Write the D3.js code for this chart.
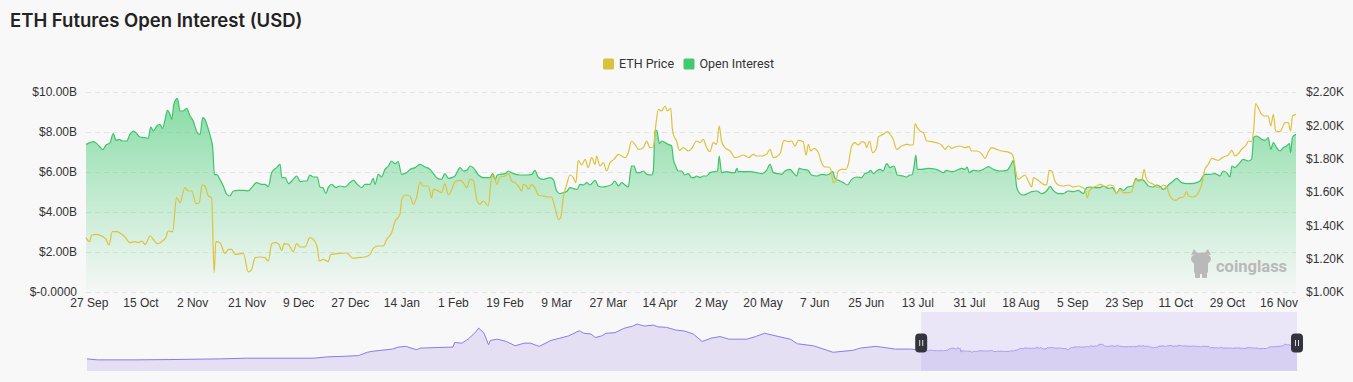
<!DOCTYPE html>
<html>
<head>
<meta charset="utf-8">
<script src="https://cdn.jsdelivr.net/npm/d3@7"></script>
<style>
  body { margin: 0; background: #f8f8f8; }
  svg { display: block; }
</style>
</head>
<body>
<svg id="chart"></svg>
<script>
// days are counted from the first point of the main window (26 Sep 2022)
const startDate = Date.UTC(2022, 8, 26);
const windowDays = 422.1;

// open interest in $ billions, [day, value]
const openInterest = [
  [0,7.38],[1.4,7.47],[2.6,7.52],[3.7,7.43],[4.9,7.25],[5.8,7.12],[7,7.35],[8.4,7.47],[9.5,7.92],[10.5,7.58],
  [11.6,7.63],[12.8,7.55],[14.2,7.55],[15.3,7.88],[16.5,8.05],[17.7,7.92],[18.8,7.75],[20.6,7.72],[21.7,7.68],
  [22.6,8.25],[23.5,8.05],[24.7,8.3],[25.8,8.38],[26.7,8.18],[27.6,8.63],[28.4,9.08],[29.3,8.88],[29.9,8.63],
  [30.7,9.42],[31.9,9.68],[32.8,9.05],[33.9,9.05],[35.1,9.18],[36.3,8.8],[37.4,8.55],[38.8,7.97],[39.8,7.88],
  [40.7,8.72],[41.5,8.63],[42.3,8.3],[43.5,7.72],[44.2,7.22],[44.8,5.88],[45.8,5.85],[46.7,5.63],[47.9,5.3],
  [49.1,4.88],[50.2,4.8],[51.4,5.05],[53.1,5.08],[54.9,5.08],[56.6,5.05],[57.8,5.22],[59.5,5.47],[61.3,5.38],
  [62.4,5.38],[63.6,5.27],[64.8,5.97],[66.5,6.22],[67.7,6.38],[68.3,5.72],[69.5,5.72],[70.6,5.42],[72.3,5.63],
  [73.5,5.8],[74.7,5.52],[75.8,5.55],[77,5.55],[78.1,5.85],[79.3,5.75],[80.7,5.75],[81.6,5.25],[82.6,5.22],
  [83.7,4.92],[84.5,5.22],[85.7,5.38],[87.2,5.22],[88.6,5.3],[90.3,5.25],[92.1,5.47],[93.3,5.58],[94.4,5.42],
  [96.2,5.22],[97.3,5.38],[99.1,5.38],[100.2,5.68],[100.8,5.38],[102,5.88],[103.1,5.75],[104.3,6.13],[105.5,6.3],
  [106.6,6.55],[107.8,6.42],[108.9,6.52],[110.1,5.88],[111.9,5.97],[113,6.13],[114.8,6.22],[116.5,6.38],
  [118.3,6.25],[120,6.13],[121.4,5.88],[122.6,5.68],[124,5.63],[125.2,5.92],[126.4,5.68],[127.6,5.72],[128.7,5.8],
  [130.5,6.22],[131.6,6.05],[132.8,6.08],[134,6.3],[135.1,6.22],[136.9,5.85],[138.6,5.72],[140.9,5.72],
  [141.9,5.92],[142.7,5.63],[143.5,5.85],[144.4,5.88],[146.2,5.92],[147.3,6.05],[149.1,5.92],[151.4,5.85],
  [153.7,5.85],[155.5,5.88],[156.6,6.08],[157.8,5.72],[159.5,5.63],[160.7,5.68],[161.9,5.72],[163,5.63],
  [164.2,5.05],[165.3,4.92],[166.5,4.97],[167.7,5.02],[168.8,5.22],[170,5.17],[171.4,5.13],[172.3,5.38],
  [173.5,5.35],[174.7,5.47],[175.8,5.35],[177.6,5.58],[178.7,5.3],[179.9,5.25],[181.6,5.28],[183.4,5.38],
  [184.5,5.55],[185.7,5.3],[186.9,5.47],[188,5.35],[189.2,5.25],[189.8,5.88],[190.3,6.3],[191.2,6.3],
  [192.1,5.97],[193.3,5.97],[194.4,6.05],[195.6,5.88],[197.3,5.85],[197.9,6.05],[198.5,8.05],[199.1,8.08],
  [200,7.42],[200.8,7.55],[202,7.47],[203.1,7.38],[204.3,7.3],[204.9,6.63],[205.7,6.3],[206.6,6.05],[207.8,6.05],
  [208.9,5.85],[210.1,5.92],[211.3,5.72],[212.1,5.72],[213,5.8],[214.2,5.72],[215.3,5.8],[216.5,5.8],
  [217.7,5.97],[219.4,6.02],[220.3,6.05],[220.9,6.8],[221.7,5.97],[223.5,6.02],[225.2,5.97],[226.4,5.97],
  [227,6.18],[227.6,6.02],[229.3,6.02],[231.6,6.02],[234,5.97],[235.7,5.92],[237.4,6.08],[238.6,6.38],
  [239.8,5.97],[241.5,5.92],[242.7,5.88],[243.8,6.05],[245.6,6.13],[246.7,5.97],[247.9,5.8],[248.8,6.18],
  [250.2,6.13],[251.9,6.08],[253.1,5.85],[254.9,5.8],[256.6,5.88],[258.4,5.85],[259.5,5.92],[260.5,6.02],
  [261.3,5.68],[263,5.55],[264.2,5.47],[265.6,5.35],[267.1,5.63],[268.8,5.75],[270.6,5.72],[271.7,5.92],
  [272.9,5.97],[273.7,6.08],[274.7,5.92],[275.8,6.05],[277,6.13],[278.1,6.05],[279.3,6.42],[280.5,6.22],
  [281.9,6.3],[283,5.85],[285.1,5.8],[286.3,5.75],[287.4,5.85],[288.1,5.85],[288.8,6.22],[289.5,6.85],
  [290,6.13],[291.5,6.13],[293.8,6.18],[296.2,6.15],[297.9,6.05],[299.1,5.97],[300.2,6.08],[302,6.02],
  [303.7,6.08],[305.5,6.18],[306.6,6.13],[307.4,6.25],[308.1,5.97],[309.5,6.08],[311.3,6.05],[313,6.13],
  [314.8,6.27],[316.5,6.13],[318.8,6.05],[321.2,6.08],[322.6,6.35],[323.5,6.58],[324.1,5.97],[324.7,5.22],
  [325.8,4.92],[327,4.85],[328.4,4.92],[329.9,5.02],[331.6,5.05],[333.4,4.92],[335.1,5.05],[336.3,5.28],
  [337.4,5.08],[339.2,4.92],[340.9,4.92],[342.7,5.05],[344.4,5.02],[346.2,5.08],[347.9,4.92],[349.1,5.22],
  [350.2,5.25],[352,5.22],[353.7,5.22],[354.9,5.3],[356.6,5.18],[358.1,5.22],[359.5,4.92],[360.7,5.18],
  [361.9,5.08],[363.3,5.25],[365.1,5.3],[366.3,5.68],[367.1,5.55],[368.3,5.63],[369.4,5.52],[370.6,5.3],
  [372.3,5.25],[373.5,5.35],[374.7,5.28],[375.8,5.13],[377.6,5.35],[379.3,5.55],[380.5,5.68],[382.2,5.47],
  [384,5.42],[385.7,5.42],[387.4,5.47],[388.6,5.55],[390.3,5.88],[392.1,5.88],[393.8,5.92],[395.6,5.8],
  [396.7,6.05],[397.9,5.97],[399.1,5.75],[399.7,6.3],[400.8,6.22],[402,6.38],[403.7,6.63],[405.5,6.55],
  [406.6,6.63],[407.4,7.75],[408.4,7.8],[410.1,7.63],[411.3,7.58],[412.4,7.72],[413.3,7.13],[414.2,7.47],
  [415.3,7.22],[416.5,7.05],[417.7,7.22],[418.8,7.3],[419.8,7.42],[420.2,6.97],[420.9,7.75],[422.1,7.88]
];

// ETH price in $, [day, value]
const ethPrice = [
  [0,1326],[1.2,1302],[2,1342],[3.7,1346],[5.5,1336],[7,1316],[8,1282],[9.2,1362],[10.7,1362],[12.5,1346],
  [13.6,1330],[15.3,1296],[17.1,1302],[18.3,1296],[19.4,1306],[20.6,1286],[22.4,1336],[23.7,1310],[24.9,1290],
  [26.4,1302],[27.9,1330],[28.7,1366],[30.2,1362],[31.6,1566],[32.8,1536],[34.5,1626],[35.7,1606],[36.9,1606],
  [38.4,1530],[39.5,1536],[40.5,1642],[41.5,1636],[42.7,1576],[43.8,1566],[44.7,1116],[45.3,1302],[46.7,1296],
  [48.5,1232],[49.7,1256],[50.8,1256],[52,1226],[54.9,1232],[56.6,1120],[57.8,1136],[59,1206],[60.7,1210],
  [62.4,1206],[63.6,1186],[64.8,1290],[65.9,1296],[67.1,1290],[68.3,1250],[69.1,1290],[70.6,1286],[72.3,1242],
  [73.5,1290],[74.7,1270],[76.4,1270],[78.1,1326],[79.3,1316],[80.7,1266],[81.4,1186],[82.8,1196],[84.5,1182],
  [85.4,1226],[87.4,1230],[90.9,1234],[92.1,1216],[93.3,1202],[95,1206],[97.3,1210],[99.1,1226],[100.2,1262],
  [102,1276],[103.7,1276],[104.9,1316],[106.6,1356],[107.8,1422],[109.5,1466],[110.1,1550],[111.3,1582],
  [113,1576],[114.2,1526],[115.3,1566],[116.5,1660],[117.7,1636],[119.4,1636],[120.6,1566],[121.2,1616],
  [122.6,1610],[124,1596],[125.2,1650],[126.4,1582],[127.6,1616],[128.7,1662],[130.5,1670],[131.6,1656],
  [132.8,1626],[134,1676],[135.1,1670],[136.3,1556],[137.4,1526],[138.6,1546],[140.3,1516],[141.5,1686],
  [142.3,1702],[143.3,1646],[144.4,1690],[146.2,1696],[147.3,1710],[148.5,1666],[149.7,1656],[150.8,1636],
  [152,1606],[152.6,1646],[153.7,1636],[154.3,1616],[155.5,1646],[156.6,1626],[157.8,1582],[159.5,1576],
  [161.3,1570],[162.4,1570],[163.6,1506],[164.8,1436],[165.6,1446],[166.5,1566],[167.7,1646],[168.8,1702],
  [170,1686],[170.9,1656],[171.7,1790],[172.9,1762],[174.1,1796],[175.2,1746],[176.4,1806],[177.6,1766],
  [178.1,1816],[179.3,1756],[180.5,1776],[181.6,1726],[182.8,1776],[184.2,1796],[185.7,1826],[186.9,1816],
  [188,1806],[189.2,1836],[190.3,1906],[191.5,1886],[192.7,1856],[194.4,1866],[195.6,1906],[196.7,1866],
  [197.9,1870],[198.8,2006],[199.7,2096],[200.8,2086],[202,2116],[202.8,2086],[204,2102],[204.5,1986],
  [204.9,1946],[206,1906],[207,1850],[208.4,1866],[210.1,1846],[211.3,1862],[213,1906],[214.2,1896],
  [215.3,1916],[216.5,1866],[217.7,1842],[218.8,1896],[220,1886],[220.9,1996],[221.7,1906],[222.9,1866],
  [224.7,1846],[226.4,1806],[227.6,1810],[229.3,1822],[231.2,1806],[232.8,1826],[234,1816],[235.7,1816],
  [237.4,1826],[238.6,1856],[239.8,1806],[242.1,1830],[243.5,1910],[245,1902],[246.2,1906],[247.3,1876],
  [248.5,1910],[250.2,1902],[251.2,1822],[252,1886],[252.8,1846],[254,1862],[255.5,1836],[256.6,1776],
  [257.8,1750],[259,1750],[259.8,1736],[260.7,1656],[261.6,1666],[262.4,1726],[263.6,1736],[265.1,1736],
  [265.9,1766],[267.1,1876],[268.2,1896],[269.4,1882],[270.6,1902],[271.7,1896],[272.3,1866],[273.3,1906],
  [274.4,1836],[275.8,1866],[276.4,1930],[278.1,1946],[279.5,1962],[280.5,1946],[281.6,1916],[282.8,1856],
  [284.5,1876],[286.3,1886],[287.4,1882],[288.6,1882],[289.2,2010],[290,1986],[290.9,1966],[292.1,1956],
  [293.3,1906],[295,1902],[296.7,1896],[298.5,1882],[299.7,1856],[300.8,1876],[302,1862],[303.1,1870],
  [304.9,1876],[306.6,1866],[308.1,1872],[308.9,1846],[310.7,1846],[312.4,1830],[313.6,1802],[314.8,1842],
  [315.9,1866],[317.7,1856],[319.4,1846],[321.2,1842],[322.9,1830],[323.7,1796],[324.4,1716],[325.2,1676],
  [326.4,1690],[327.6,1702],[328.7,1666],[329.9,1630],[330.5,1686],[331.6,1676],[332.8,1662],[334,1646],
  [335.1,1642],[336,1730],[336.9,1726],[338,1666],[339.2,1642],[340.9,1636],[342.7,1642],[344.4,1630],
  [346.2,1636],[347.7,1626],[348.5,1616],[349.3,1566],[350,1606],[351.2,1626],[352.6,1636],[354,1646],
  [355.5,1630],[357.2,1642],[358.4,1636],[359.5,1590],[360.7,1616],[361.9,1596],[363.6,1596],[364.8,1602],
  [365.9,1666],[367.1,1676],[368.3,1670],[369.1,1736],[369.8,1686],[370.6,1662],[372.3,1646],[373.5,1630],
  [374.7,1626],[375.8,1642],[377,1630],[378.1,1576],[379.9,1550],[381.6,1566],[382.8,1570],[384,1602],
  [384.5,1576],[386.3,1570],[387.7,1586],[389.2,1646],[390.3,1736],[391.5,1766],[392.7,1802],[393.8,1796],
  [395,1790],[396.7,1810],[398.5,1822],[399.7,1850],[400.8,1816],[402,1830],[403.1,1856],[404.7,1882],
  [405.5,1906],[406.6,1902],[407.4,1986],[408,2130],[408.9,2106],[410.1,2066],[411.3,2056],[412.4,2056],
  [413.3,1996],[414.2,2066],[415,1966],[416.5,1962],[418.3,2016],[419.4,2016],[420.2,1966],[420.9,2056],
  [422.1,2066]
];

// navigator: earlier ETH price history, [days before the main window start offset, price]
const navOffset = 937;
const navHistory = [
  [0,266],[12,139],[55,139],[92,177],[150,266],[180,354],[255,354],[270,519],[290,595],[305,684],[315,1101],
  [320,1215],[330,1342],[343,1506],[350,1759],[358,1848],[365,1595],[370,1430],[375,1633],[411,1759],
  [413,2342],[421,2253],[428,2759],[436,3582],[440,4165],[446,3506],[451,2051],[453,2595],[461,2759],
  [471,2468],[481,1924],[491,2253],[498,2253],[508,1848],[521,2595],[531,2886],[541,3177],[553,3835],
  [558,3506],[566,3418],[571,2962],[578,3177],[583,3506],[593,3582],[603,4127],[613,4418],[618,4671],
  [626,4418],[636,4544],[641,4329],[651,4253],[661,3924],[671,3797],[681,3418],[691,2468],[701,2886],
  [711,3089],[721,2759],[731,2759],[741,2759],[751,3089],[761,3506],[777,3089],[790,2759],[798,2177],
  [816,1924],[838,1101],[860,1342],[869,1633],[886,1848],[908,1506],[926,1506]
];

const xTickDates = ["2022-09-27","2022-10-15","2022-11-02","2022-11-21","2022-12-09","2022-12-27",
  "2023-01-14","2023-02-01","2023-02-19","2023-03-09","2023-03-27","2023-04-14","2023-05-02","2023-05-20",
  "2023-06-07","2023-06-25","2023-07-13","2023-07-31","2023-08-18","2023-09-05","2023-09-23","2023-10-11",
  "2023-10-29","2023-11-16"];
const leftTicks = [0, 2, 4, 6, 8, 10];
const leftTickLabels = ["$-0.0000", "$2.00B", "$4.00B", "$6.00B", "$8.00B", "$10.00B"];
const rightTicks = [1000, 1200, 1400, 1600, 1800, 2000, 2200];
const rightTickLabels = ["$1.00K", "$1.20K", "$1.40K", "$1.60K", "$1.80K", "$2.00K", "$2.20K"];

const width = 1353, height = 382;
const marginLeft = 86, marginRight = 57, plotTop = 92, plotBottom = 292;
const navTop = 312, navBottom = 371;

const toDate = d => new Date(startDate + d * 864e5);

const svg = d3.select("#chart")
    .attr("width", width)
    .attr("height", height)
    .attr("viewBox", [0, 0, width, height])
    .style("font-family", "Roboto, 'Noto Sans', sans-serif");

svg.append("rect").attr("width", width).attr("height", height).attr("fill", "#f8f8f8");

const x = d3.scaleUtc([toDate(0), toDate(windowDays)], [marginLeft, width - marginRight]);
const yLeft = d3.scaleLinear([0, 10], [plotBottom, plotTop]);
const yRight = d3.scaleLinear([1000, 2200], [plotBottom, plotTop]);

// title
svg.append("text")
    .attr("x", 10)
    .attr("y", 27)
    .attr("font-family", "Inter, 'Noto Sans', sans-serif")
    .attr("font-size", 18.5)
    .attr("font-weight", 600)
    .attr("fill", "#222")
    .text("ETH Futures Open Interest (USD)");

// legend
const legend = svg.append("g").attr("font-size", 12.5).attr("fill", "#333");
[["ETH Price", "#d8c13d", 603], ["Open Interest", "#43c872", 683.5]].forEach(([name, c, lx]) => {
  legend.append("rect").attr("x", lx).attr("y", 58.5).attr("width", 11).attr("height", 11).attr("rx", 1.5).attr("fill", c);
  legend.append("text").attr("x", lx + 16).attr("y", 64).attr("dy", "0.35em").text(name);
});

// grid + left axis
svg.append("g")
    .attr("transform", `translate(${marginLeft},0)`)
    .call(d3.axisLeft(yLeft).tickValues(leftTicks).tickFormat((d, i) => leftTickLabels[i]).tickSize(0).tickPadding(9))
    .call(g => g.select(".domain").remove())
    .call(g => g.selectAll(".tick text").attr("font-size", 12).attr("fill", "#333").attr("font-family", null))
    .call(g => g.selectAll(".tick line").clone()
        .attr("x2", width - marginRight - marginLeft)
        .attr("stroke", "#e4e4e4")
        .attr("stroke-dasharray", "5,4"));

// right axis
svg.append("g")
    .attr("transform", `translate(${width - marginRight},0)`)
    .call(d3.axisRight(yRight).tickValues(rightTicks).tickFormat((d, i) => rightTickLabels[i]).tickSize(0).tickPadding(10))
    .call(g => g.select(".domain").remove())
    .call(g => g.selectAll(".tick text").attr("font-size", 12).attr("fill", "#333").attr("font-family", null));

// x axis labels
const parseDay = d3.utcParse("%Y-%m-%d");
svg.append("g")
    .attr("transform", `translate(0,${plotBottom})`)
    .call(d3.axisBottom(x).tickValues(xTickDates.map(parseDay)).tickFormat(d3.utcFormat("%-d %b")).tickSize(0).tickPadding(6))
    .call(g => g.select(".domain").remove())
    .call(g => g.selectAll(".tick text").attr("font-size", 12).attr("fill", "#333").attr("font-family", null));

// gradient for open interest area
const defs = svg.append("defs");
const grad = defs.append("linearGradient")
    .attr("id", "oiFill")
    .attr("gradientUnits", "userSpaceOnUse")
    .attr("x1", 0).attr("x2", 0).attr("y1", plotTop).attr("y2", plotBottom);
grad.append("stop").attr("offset", 0).attr("stop-color", "#3cc96d").attr("stop-opacity", 0.62);
grad.append("stop").attr("offset", 0.5).attr("stop-color", "#3cc96d").attr("stop-opacity", 0.3);
grad.append("stop").attr("offset", 1).attr("stop-color", "#3cc96d").attr("stop-opacity", 0.02);

const oiArea = d3.area()
    .x(d => x(toDate(d[0])))
    .y0(plotBottom)
    .y1(d => yLeft(d[1]))
    .curve(d3.curveMonotoneX);
const oiLine = d3.line()
    .x(d => x(toDate(d[0])))
    .y(d => yLeft(d[1]))
    .curve(d3.curveMonotoneX);
const priceLine = d3.line()
    .x(d => x(toDate(d[0])))
    .y(d => yRight(d[1]))
    .curve(d3.curveMonotoneX);

svg.append("path").datum(openInterest).attr("d", oiArea).attr("fill", "url(#oiFill)");
svg.append("path").datum(openInterest).attr("d", oiLine)
    .attr("fill", "none").attr("stroke", "#3ec46c").attr("stroke-width", 1.2);
svg.append("path").datum(ethPrice).attr("d", priceLine)
    .attr("fill", "none").attr("stroke", "#dcc33e").attr("stroke-width", 1.2);

// watermark
const wm = svg.append("g").attr("fill", "#b9b9b9");
wm.append("ellipse").attr("cx", 1201).attr("cy", 259).attr("rx", 10).attr("ry", 6.5);
wm.append("path").attr("d", "M1191,255 l3,-6 l4,5 Z M1204,254 l4,-5 l3,6 Z");
wm.append("rect").attr("x", 1194).attr("y", 262).attr("width", 14).attr("height", 12).attr("rx", 3);
wm.append("rect").attr("x", 1195).attr("y", 272).attr("width", 5).attr("height", 6).attr("rx", 1);
wm.append("rect").attr("x", 1202).attr("y", 272).attr("width", 5).attr("height", 6).attr("rx", 1);
wm.append("text")
    .attr("x", 1216).attr("y", 266).attr("dy", "0.35em")
    .attr("font-size", 16.5).attr("font-weight", 700)
    .text("coinglass");

// navigator (full price history)
const navData = navHistory.concat(ethPrice.map(d => [d[0] + navOffset, d[1]]));
const navX = d3.scaleLinear([0, navOffset + windowDays], [87, 1297]);
const navY = d3.scaleLinear([-1270, 6200], [navBottom, navTop]);

defs.append("clipPath").attr("id", "navOut")
  .append("rect").attr("x", 0).attr("y", 0).attr("width", navX(navOffset)).attr("height", height);
defs.append("clipPath").attr("id", "navIn")
  .append("rect").attr("x", navX(navOffset)).attr("y", 0).attr("width", width).attr("height", height);

const navArea = d3.area().x(d => navX(d[0])).y0(navBottom).y1(d => navY(d[1])).curve(d3.curveLinear);
const navLine = d3.line().x(d => navX(d[0])).y(d => navY(d[1])).curve(d3.curveLinear);

svg.append("path").datum(navData).attr("d", navArea).attr("fill", "#e4dff3");
svg.append("rect")
    .attr("x", navX(navOffset))
    .attr("y", navTop)
    .attr("width", navX(navOffset + windowDays) - navX(navOffset))
    .attr("height", navBottom - navTop)
    .attr("fill", "#8c6ef0")
    .attr("fill-opacity", 0.13);
svg.append("path").datum(navData).attr("d", navLine).attr("clip-path", "url(#navOut)")
    .attr("fill", "none").attr("stroke", "#8b7cee").attr("stroke-width", 1);
svg.append("path").datum(navData).attr("d", navLine).attr("clip-path", "url(#navIn)")
    .attr("fill", "none").attr("stroke", "#a99cf2").attr("stroke-width", 1);

// handles
[navOffset, navOffset + windowDays].forEach(d => {
  const hx = navX(d);
  const h = svg.append("g").attr("transform", `translate(${hx},343)`);
  h.append("rect").attr("x", -6).attr("y", -9.5).attr("width", 12).attr("height", 19).attr("rx", 4).attr("fill", "#34343f");
  h.append("line").attr("x1", -1.5).attr("x2", -1.5).attr("y1", -3).attr("y2", 3).attr("stroke", "#ddd").attr("stroke-width", 1);
  h.append("line").attr("x1", 1.5).attr("x2", 1.5).attr("y1", -3).attr("y2", 3).attr("stroke", "#ddd").attr("stroke-width", 1);
});
</script>
</body>
</html>
